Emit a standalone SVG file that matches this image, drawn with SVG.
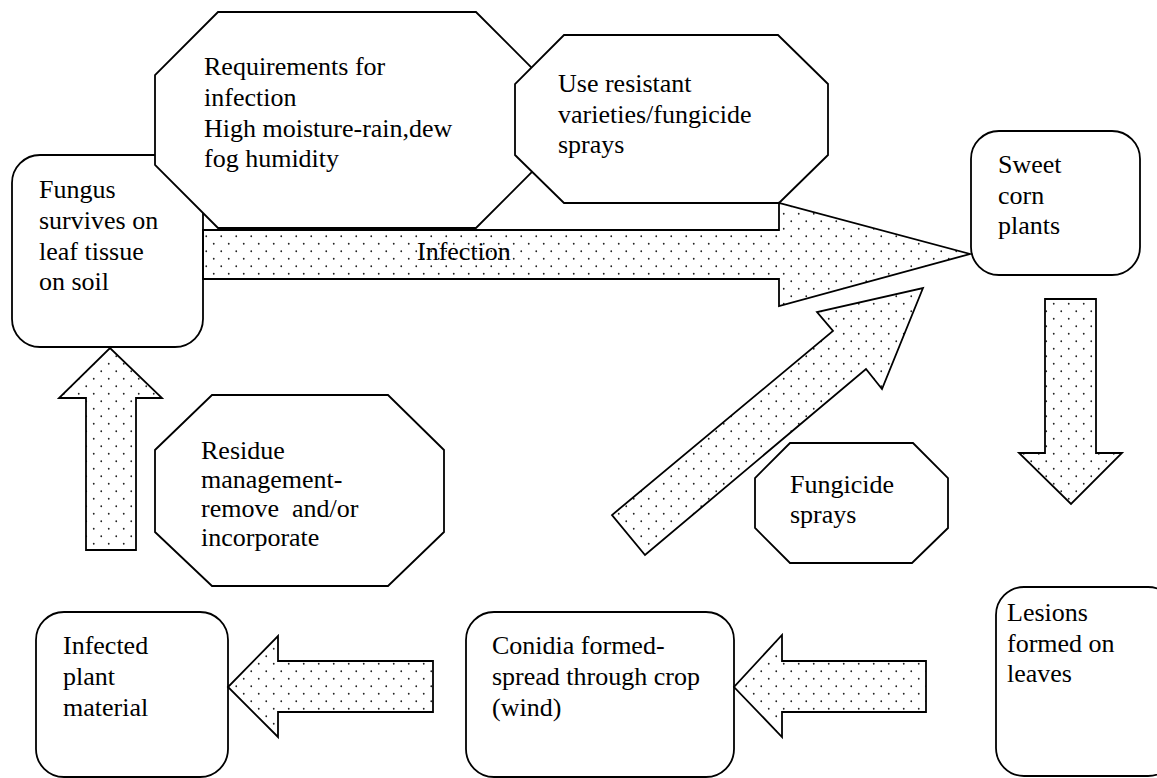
<svg xmlns="http://www.w3.org/2000/svg" width="1157" height="778" viewBox="0 0 1157 778" font-family="'Liberation Serif', 'Times New Roman', Times, 'DejaVu Serif', serif" font-size="26">
<defs>
<pattern id="dots" width="15" height="15" patternUnits="userSpaceOnUse">
<circle cx="3.75" cy="3.75" r="0.9" fill="#222"/>
<circle cx="11.25" cy="11.25" r="0.9" fill="#222"/>
</pattern>
</defs>
<style>
.box{fill:#fff;stroke:#000;stroke-width:1.8}
.arrow{fill:url(#dots);stroke:#000;stroke-width:1.8;stroke-linejoin:miter}
text{font-family:'Liberation Serif','Times New Roman',Times,'DejaVu Serif',serif;font-size:26px;fill:#000}
</style>
<rect width="1157" height="778" fill="#fff"/>
<g id="fungus">
<rect class="box" x="12" y="155" width="191" height="192" rx="28" ry="28"/>
<text x="39" y="198">Fungus</text>
<text x="39" y="229">survives on</text>
<text x="39" y="260">leaf tissue</text>
<text x="39" y="290">on soil</text>
</g>
<g id="requirements">
<polygon class="box" points="218,12 476,12 539,75 539,165 476,228 218,228 155,165 155,75"/>
<text x="204" y="75">Requirements for</text>
<text x="204" y="106">infection</text>
<text x="204" y="137">High moisture-rain,dew</text>
<text x="204" y="167">fog humidity</text>
</g>
<g id="resistant">
<polygon class="box" points="564,35 778,35 828,84 828,155 779,203 564,203 515,155 515,84"/>
<text x="558" y="92">Use resistant</text>
<text x="558" y="123">varieties/fungicide</text>
<text x="558" y="153">sprays</text>
</g>
<g id="sweetcorn">
<rect class="box" x="971" y="131" width="169" height="144" rx="28" ry="28"/>
<text x="998" y="173">Sweet</text>
<text x="998" y="204">corn</text>
<text x="998" y="234">plants</text>
</g>
<g id="residue">
<polygon class="box" points="212,395 388,395 444,450 444,532 388,586 212,586 155,532 155,450"/>
<text x="201" y="459">Residue</text>
<text x="201" y="488">management-</text>
<text x="201" y="517" xml:space="preserve">remove  and/or</text>
<text x="201" y="546">incorporate</text>
</g>
<g id="fungicide">
<polygon class="box" points="790,443 913,443 948,478 948,528 912,563 790,563 755,528 755,478"/>
<text x="790" y="493">Fungicide</text>
<text x="790" y="523">sprays</text>
</g>
<g id="infected">
<rect class="box" x="36" y="612" width="192" height="165" rx="28" ry="28"/>
<text x="63" y="654">Infected</text>
<text x="63" y="685">plant</text>
<text x="63" y="716">material</text>
</g>
<g id="conidia">
<rect class="box" x="466" y="612" width="268" height="165" rx="28" ry="28"/>
<text x="492" y="654">Conidia formed-</text>
<text x="492" y="685">spread through crop</text>
<text x="492" y="716">(wind)</text>
</g>
<g id="lesions">
<rect class="box" x="996" y="587" width="180" height="189" rx="28" ry="28"/>
<text x="1007" y="621">Lesions</text>
<text x="1007" y="652">formed on</text>
<text x="1007" y="682">leaves</text>
</g>
<g id="connectors">
<polygon class="arrow" points="203,230 779,230 779,203 970,254 779,306 779,279 203,279"/>
<text x="417" y="260">Infection</text>
<polygon class="arrow" points="923,288 882,389 866,369 645,555 612,515 833,331 817,312"/>
<polygon class="arrow" points="1045,299 1096,299 1096,453 1122,453 1071,504 1019,453 1045,453"/>
<polygon class="arrow" points="926,661 926,712 782,712 782,737 734,687 782,635 782,661"/>
<polygon class="arrow" points="433,661 433,712 278,712 278,737 228,687 278,636 278,661"/>
<polygon class="arrow" points="86,550 136,550 136,398 162,398 110,348 59,398 86,398"/>
</g>
</svg>
